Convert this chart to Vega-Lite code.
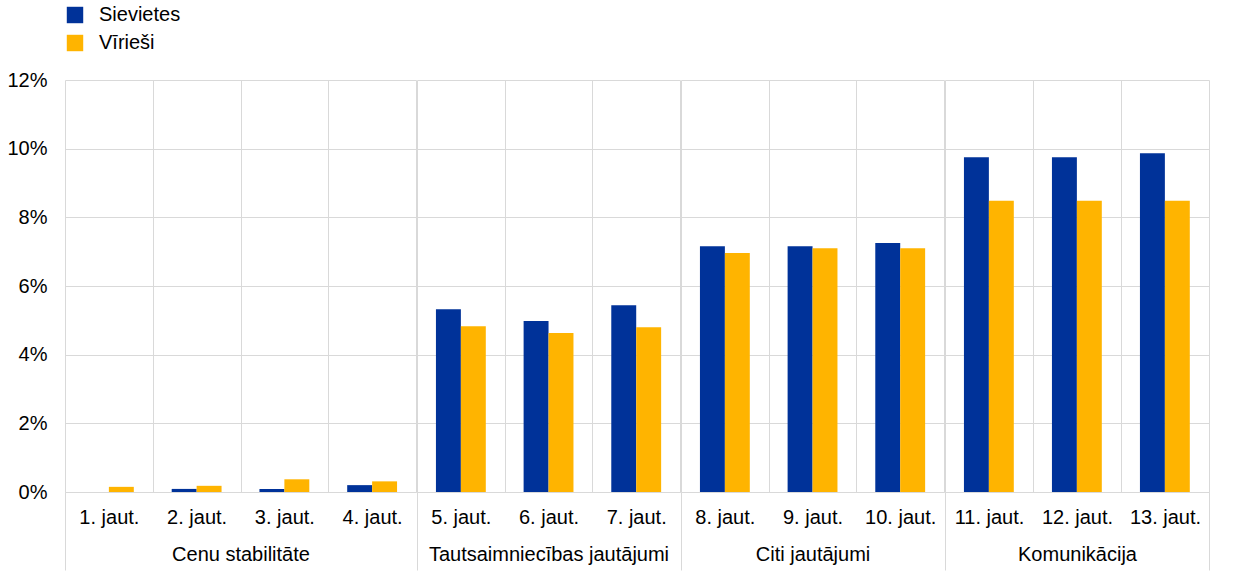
{
  "$schema": "https://vega.github.io/schema/vega-lite/v6.json",
  "padding": {"left": 6, "top": 5, "right": 30, "bottom": 0},
  "data": {"values": [
    {"q": "1. jaut.", "group": "Cenu stabilitāte", "sex": "Sievietes", "value": 0},
    {"q": "1. jaut.", "group": "Cenu stabilitāte", "sex": "Vīrieši", "value": 0.15},
    {"q": "2. jaut.", "group": "Cenu stabilitāte", "sex": "Sievietes", "value": 0.09},
    {"q": "2. jaut.", "group": "Cenu stabilitāte", "sex": "Vīrieši", "value": 0.18},
    {"q": "3. jaut.", "group": "Cenu stabilitāte", "sex": "Sievietes", "value": 0.09},
    {"q": "3. jaut.", "group": "Cenu stabilitāte", "sex": "Vīrieši", "value": 0.37},
    {"q": "4. jaut.", "group": "Cenu stabilitāte", "sex": "Sievietes", "value": 0.2},
    {"q": "4. jaut.", "group": "Cenu stabilitāte", "sex": "Vīrieši", "value": 0.31},
    {"q": "5. jaut.", "group": "Tautsaimniecības jautājumi", "sex": "Sievietes", "value": 5.32},
    {"q": "5. jaut.", "group": "Tautsaimniecības jautājumi", "sex": "Vīrieši", "value": 4.83},
    {"q": "6. jaut.", "group": "Tautsaimniecības jautājumi", "sex": "Sievietes", "value": 4.98},
    {"q": "6. jaut.", "group": "Tautsaimniecības jautājumi", "sex": "Vīrieši", "value": 4.63},
    {"q": "7. jaut.", "group": "Tautsaimniecības jautājumi", "sex": "Sievietes", "value": 5.44},
    {"q": "7. jaut.", "group": "Tautsaimniecības jautājumi", "sex": "Vīrieši", "value": 4.8},
    {"q": "8. jaut.", "group": "Citi jautājumi", "sex": "Sievietes", "value": 7.16},
    {"q": "8. jaut.", "group": "Citi jautājumi", "sex": "Vīrieši", "value": 6.96},
    {"q": "9. jaut.", "group": "Citi jautājumi", "sex": "Sievietes", "value": 7.16},
    {"q": "9. jaut.", "group": "Citi jautājumi", "sex": "Vīrieši", "value": 7.1},
    {"q": "10. jaut.", "group": "Citi jautājumi", "sex": "Sievietes", "value": 7.25},
    {"q": "10. jaut.", "group": "Citi jautājumi", "sex": "Vīrieši", "value": 7.1},
    {"q": "11. jaut.", "group": "Komunikācija", "sex": "Sievietes", "value": 9.75},
    {"q": "11. jaut.", "group": "Komunikācija", "sex": "Vīrieši", "value": 8.48},
    {"q": "12. jaut.", "group": "Komunikācija", "sex": "Sievietes", "value": 9.75},
    {"q": "12. jaut.", "group": "Komunikācija", "sex": "Vīrieši", "value": 8.48},
    {"q": "13. jaut.", "group": "Komunikācija", "sex": "Sievietes", "value": 9.87},
    {"q": "13. jaut.", "group": "Komunikācija", "sex": "Vīrieši", "value": 8.48}
  ]},
  "spacing": 0,
  "hconcat": [
    {
      "transform": [{"filter": "datum.group === 'Cenu stabilitāte'"}],
      "width": 351, "height": 412,
      "mark": {"type": "bar"},
      "encoding": {
        "x": {"field": "q", "type": "nominal", "sort": null,
              "scale": {"paddingInner": 0, "paddingOuter": 0},
              "axis": {"title": "Cenu stabilitāte", "tickBand": "extent", "tickSize": 78, "tickColor": "#d9d9d9",
                       "tickOpacity": {"condition": {"test": "datum.extra || datum.value === '13. jaut.'", "value": 1}, "value": 0},
                       "labelPadding": -63, "labelAngle": 0, "grid": true, "gridColor": "#d9d9d9", "domainColor": "#d9d9d9", "titleY": 52}},
        "xOffset": {"field": "sex", "type": "nominal", "sort": ["Sievietes", "Vīrieši"], "scale": {"paddingOuter": 0.76, "paddingInner": 0}},
        "y": {"field": "value", "type": "quantitative", "scale": {"domain": [0, 12], "nice": false},
              "axis": {"title": null, "grid": true, "gridColor": "#d9d9d9", "domain": false, "ticks": false, "labelPadding": 18,
                       "values": [0, 2, 4, 6, 8, 10, 12], "labelExpr": "datum.value + '%'"}},
        "color": {"field": "sex", "type": "nominal", "sort": ["Sievietes", "Vīrieši"],
                  "scale": {"domain": ["Sievietes", "Vīrieši"], "range": ["#003299", "#ffb400"]},
                  "legend": {"title": null, "orient": "top", "direction": "vertical", "symbolType": "square", "symbolSize": 270,
                             "symbolStrokeWidth": 0, "labelFontSize": 20, "labelFont": "Liberation Sans", "labelColor": "#000000",
                             "rowPadding": 8, "labelOffset": 14, "offset": 17}}
      }
    },
    {
      "transform": [{"filter": "datum.group === 'Tautsaimniecības jautājumi'"}],
      "width": 263, "height": 412,
      "mark": {"type": "bar"},
      "encoding": {
        "x": {"field": "q", "type": "nominal", "sort": null,
              "scale": {"paddingInner": 0, "paddingOuter": 0},
              "axis": {"title": "Tautsaimniecības jautājumi", "tickBand": "extent", "tickSize": 78, "tickColor": "#d9d9d9",
                       "tickOpacity": {"condition": {"test": "datum.extra || datum.value === '13. jaut.'", "value": 1}, "value": 0},
                       "labelPadding": -63, "labelAngle": 0, "grid": true, "gridColor": "#d9d9d9", "domainColor": "#d9d9d9", "titleY": 52}},
        "xOffset": {"field": "sex", "type": "nominal", "sort": ["Sievietes", "Vīrieši"], "scale": {"paddingOuter": 0.76, "paddingInner": 0}},
        "y": {"field": "value", "type": "quantitative", "scale": {"domain": [0, 12], "nice": false},
              "axis": {"title": null, "grid": true, "gridColor": "#d9d9d9", "domain": false, "ticks": false, "labels": false,
                       "values": [0, 2, 4, 6, 8, 10, 12]}},
        "color": {"field": "sex", "type": "nominal", "sort": ["Sievietes", "Vīrieši"],
                  "scale": {"domain": ["Sievietes", "Vīrieši"], "range": ["#003299", "#ffb400"]}}
      }
    },
    {
      "transform": [{"filter": "datum.group === 'Citi jautājumi'"}],
      "width": 263, "height": 412,
      "mark": {"type": "bar"},
      "encoding": {
        "x": {"field": "q", "type": "nominal", "sort": null,
              "scale": {"paddingInner": 0, "paddingOuter": 0},
              "axis": {"title": "Citi jautājumi", "tickBand": "extent", "tickSize": 78, "tickColor": "#d9d9d9",
                       "tickOpacity": {"condition": {"test": "datum.extra || datum.value === '13. jaut.'", "value": 1}, "value": 0},
                       "labelPadding": -63, "labelAngle": 0, "grid": true, "gridColor": "#d9d9d9", "domainColor": "#d9d9d9", "titleY": 52}},
        "xOffset": {"field": "sex", "type": "nominal", "sort": ["Sievietes", "Vīrieši"], "scale": {"paddingOuter": 0.76, "paddingInner": 0}},
        "y": {"field": "value", "type": "quantitative", "scale": {"domain": [0, 12], "nice": false},
              "axis": {"title": null, "grid": true, "gridColor": "#d9d9d9", "domain": false, "ticks": false, "labels": false,
                       "values": [0, 2, 4, 6, 8, 10, 12]}},
        "color": {"field": "sex", "type": "nominal", "sort": ["Sievietes", "Vīrieši"],
                  "scale": {"domain": ["Sievietes", "Vīrieši"], "range": ["#003299", "#ffb400"]}}
      }
    },
    {
      "transform": [{"filter": "datum.group === 'Komunikācija'"}],
      "width": 264, "height": 412,
      "mark": {"type": "bar"},
      "encoding": {
        "x": {"field": "q", "type": "nominal", "sort": null,
              "scale": {"paddingInner": 0, "paddingOuter": 0},
              "axis": {"title": "Komunikācija", "tickBand": "extent", "tickSize": 78, "tickColor": "#d9d9d9",
                       "tickOpacity": {"condition": {"test": "datum.extra || datum.value === '13. jaut.'", "value": 1}, "value": 0},
                       "labelPadding": -63, "labelAngle": 0, "grid": true, "gridColor": "#d9d9d9", "domainColor": "#d9d9d9", "titleY": 52}},
        "xOffset": {"field": "sex", "type": "nominal", "sort": ["Sievietes", "Vīrieši"], "scale": {"paddingOuter": 0.76, "paddingInner": 0}},
        "y": {"field": "value", "type": "quantitative", "scale": {"domain": [0, 12], "nice": false},
              "axis": {"title": null, "grid": true, "gridColor": "#d9d9d9", "domain": false, "ticks": false, "labels": false,
                       "values": [0, 2, 4, 6, 8, 10, 12]}},
        "color": {"field": "sex", "type": "nominal", "sort": ["Sievietes", "Vīrieši"],
                  "scale": {"domain": ["Sievietes", "Vīrieši"], "range": ["#003299", "#ffb400"]}}
      }
    }
  ],
  "resolve": {"scale": {"x": "independent", "y": "shared", "color": "shared"}, "axis": {"y": "independent", "x": "independent"}},
  "config": {
    "background": "#ffffff",
    "view": {"stroke": null},
    "font": "Liberation Sans",
    "axis": {"labelFont": "Liberation Sans", "labelFontSize": 20, "labelColor": "#000000",
             "titleFont": "Liberation Sans", "titleFontSize": 20, "titleFontWeight": "normal", "titleColor": "#000000"}
  }
}
